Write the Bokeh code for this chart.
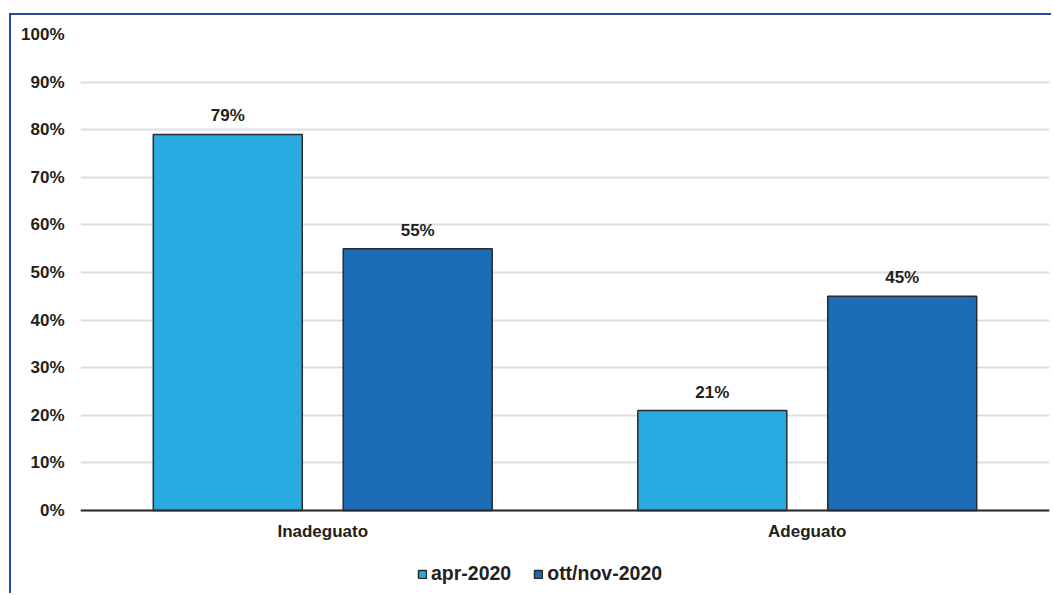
from bokeh.plotting import figure
from bokeh.models import (FactorRange, Range1d, FixedTicker, PrintfTickFormatter,
                          ColumnDataSource, Legend, LegendItem, LabelSet, Span)
from bokeh.core.properties import value
from bokeh.transform import dodge
from bokeh.embed import file_html
from bokeh.resources import INLINE

categories = ["Inadeguato", "Adeguato"]
series_names = ["apr-2020", "ott/nov-2020"]
apr_2020 = [79, 21]
ott_nov_2020 = [55, 45]
y_ticks = [0, 10, 20, 30, 40, 50, 60, 70, 80, 90, 100]

FONT = "Liberation Sans"
TXT = "#231f20"

src = ColumnDataSource(dict(
    cat=categories,
    a=apr_2020,
    b=ott_nov_2020,
    base=[0] * len(categories),
    a_lbl=[f"{v}%" for v in apr_2020],
    b_lbl=[f"{v}%" for v in ott_nov_2020],
))

# the frame extends below zero to leave room for category names and legend
p = figure(x_range=FactorRange(*categories, range_padding=0),
           y_range=Range1d(-17.44, 100),
           width=1042, height=580,
           output_backend="svg", toolbar_location=None,
           min_border_left=69, min_border_right=4,
           min_border_top=19, min_border_bottom=2)
p.styles = {"margin-left": "9px", "margin-top": "13px",
            "border-left": "2px solid #2a4a9a", "border-top": "2px solid #2a4a9a"}
p.outline_line_color = None
p.background_fill_color = "white"
p.border_fill_color = "white"

p.xgrid.grid_line_color = None
p.ygrid.ticker = FixedTicker(ticks=y_ticks)
p.ygrid.grid_line_color = "#dedede"
p.ygrid.grid_line_width = 2

ra = p.vbar(x=dodge("cat", -0.196, range=p.x_range), top="a", bottom="base", width=0.3075,
            source=src, fill_color="#29abe2", line_color="#2b2b2b", line_width=1.5)
rb = p.vbar(x=dodge("cat", 0.196, range=p.x_range), top="b", bottom="base", width=0.3075,
            source=src, fill_color="#1b6db5", line_color="#2b2b2b", line_width=1.5)

# baseline (category axis line)
p.add_layout(Span(location=0, dimension="width", line_color="#2b2b2b", line_width=2))

for col, lbl, off in (("a", "a_lbl", -0.196), ("b", "b_lbl", 0.196)):
    p.add_layout(LabelSet(x=dodge("cat", off, range=p.x_range), y=col, text=lbl, source=src,
                          text_align="center", text_baseline="bottom", y_offset=9,
                          text_font=value(FONT), text_font_style="bold",
                          text_font_size=value("17px"), text_color=TXT))

# category names under the baseline
p.add_layout(LabelSet(x="cat", y="base", text="cat", source=src,
                      text_align="center", text_baseline="middle", y_offset=-21,
                      text_font=value(FONT), text_font_style="bold",
                      text_font_size=value("17px"), text_color=TXT))

p.xaxis.visible = False

p.yaxis.ticker = FixedTicker(ticks=y_ticks)
p.yaxis.formatter = PrintfTickFormatter(format="%d%%")
p.yaxis.axis_line_color = None
p.yaxis.major_tick_line_color = None
p.yaxis.minor_tick_line_color = None
p.yaxis.major_tick_out = 0
p.yaxis.major_label_standoff = 16
p.yaxis.major_label_text_font = FONT
p.yaxis.major_label_text_font_style = "bold"
p.yaxis.major_label_text_font_size = "17px"
p.yaxis.major_label_text_color = TXT

legend = Legend(items=[LegendItem(label=series_names[0], renderers=[ra]),
                       LegendItem(label=series_names[1], renderers=[rb])],
                orientation="horizontal", location=(337, 8),
                border_line_color=None, background_fill_alpha=0,
                padding=0, margin=0, spacing=22,
                glyph_width=10, glyph_height=10, label_standoff=4,
                label_text_font=FONT, label_text_font_style="bold",
                label_text_font_size="19.5px", label_text_color=TXT)
p.add_layout(legend, "center")

open("out.html", "w").write(file_html(p, INLINE))
